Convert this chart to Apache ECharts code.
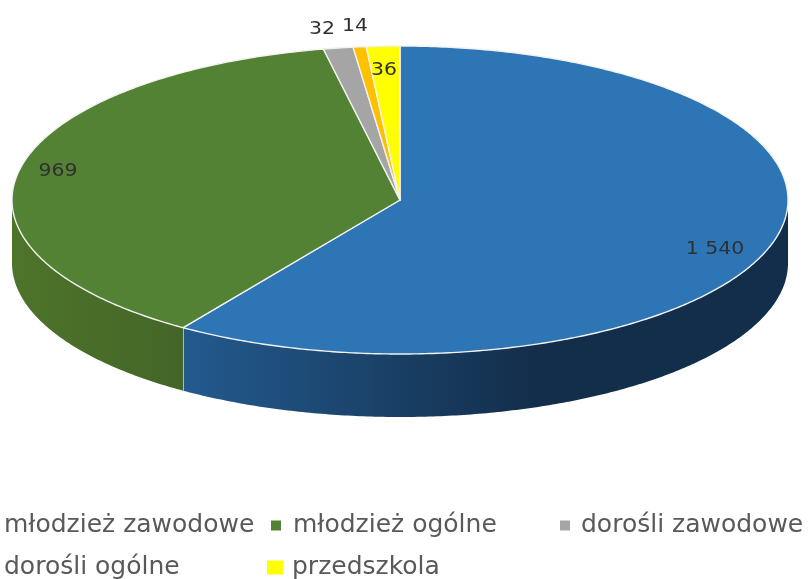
<!DOCTYPE html>
<html><head><meta charset="utf-8">
<style>html,body{margin:0;padding:0;background:#fff}#c{width:808px;height:579px}</style>
<script src="https://cdn.jsdelivr.net/npm/echarts@6/dist/echarts.min.js"></script>
</head><body><div id="c"></div>
<script>
const categories = ['młodzież zawodowe','młodzież ogólne','dorośli zawodowe','dorośli ogólne','przedszkola'];
const values = [1540, 969, 32, 14, 36];
const valueLabels = ['1 540','969','32','14','36'];
const colors = ['#2e75b6','#548235','#a5a5a5','#ffc000','#ffff00'];
const wallStops = [
  [[0,'#235a8e'],[0.58,'#132e4b'],[1,'#132e4b']],
  [[0,'#4e742a'],[1,'#446528']],
  [[0,'#6e6e6e'],[1,'#6e6e6e']],
  [[0,'#a07800'],[1,'#a07800']],
  [[0,'#a0a000'],[1,'#a0a000']]
];
const CX=400, CY=200, RX=388, RY=154, DEPTH=63;
const labelAt = [[715,250],[58,172],[322,30],[355,27],[384,71]];
const legendAt = [
  {left:-12,top:513,w:9,h:9,gap:2},
  {left:271,top:513,w:10,h:10,gap:7},
  {left:560,top:513,w:10,h:10,gap:6},
  {left:-12,top:555,w:9,h:9,gap:2},
  {left:267,top:555,w:16,h:14,gap:4}
];
const total = values.reduce((a,b)=>a+b,0);
const startAngles = values.map((_,i)=>values.slice(0,i).reduce((a,b)=>a+b,0)/total*Math.PI*2);
function pt(a,dy){return [CX+RX*Math.sin(a), CY-RY*Math.cos(a)+(dy||0)];}
function arc(a0,a1,dy){
  const n=Math.max(2,Math.ceil((a1-a0)/0.01)),p=[];
  for(let k=0;k<=n;k++)p.push(pt(a0+(a1-a0)*k/n,dy));
  return p;
}
function makeRender(i){
  return function(params,api){
    const v=api.value(0), a0=startAngles[i], a1=a0+v/total*Math.PI*2;
    const kids=[];
    const wa0=Math.max(a0,Math.PI/2), wa1=Math.min(a1,Math.PI*1.5);
    if(wa1>wa0){
      const top=arc(wa0,wa1,0), bot=arc(wa0,wa1,DEPTH).reverse();
      const xs=top.map(p=>p[0]);
      kids.push({type:'polygon',shape:{points:top.concat(bot)},
        style:{fill:new echarts.graphic.LinearGradient(Math.min(...xs),0,Math.max(...xs),0,
          wallStops[i].map(s=>({offset:s[0],color:s[1]})),true)}});
      if(a1<Math.PI*1.5){
        kids.push({type:'polyline',shape:{points:[pt(a1,0),pt(a1,DEPTH)]},style:{stroke:'#e4e8e4',lineWidth:1.2,fill:null}});
      }
    }
    kids.push({type:'polygon',shape:{points:[[CX,CY]].concat(arc(a0,a1,0))},
      style:{fill:colors[i],stroke:'#f0f2f0',lineWidth:1.4,lineJoin:'round'}});
    const L=labelAt[i];
    kids.push({type:'text',x:L[0],y:L[1],scaleX:1.2,z2:10,
      style:{text:valueLabels[i],fill:'#303030',font:'17px "DejaVu Sans"',align:'center',verticalAlign:'middle'}});
    return {type:'group',children:kids};
  };
}
const chart=echarts.init(document.getElementById('c'),null,{renderer:'canvas'});
chart.setOption({
  animation:false,
  legend:categories.map((c,i)=>({
    data:[c],left:legendAt[i].left,top:legendAt[i].top,padding:0,
    itemWidth:legendAt[i].w,itemHeight:legendAt[i].h,itemGap:0,
    selectedMode:false,icon:'rect',
    textStyle:{fontFamily:'"DejaVu Sans"',fontSize:25,color:'#595959',padding:[0,0,0,legendAt[i].gap]}
  })),
  series:categories.map((c,i)=>({
    type:'custom',name:c,coordinateSystem:'none',
    itemStyle:{color:colors[i]},
    data:[[values[i]]],encode:{value:0},
    renderItem:makeRender(i)
  }))
});
</script></body></html>
